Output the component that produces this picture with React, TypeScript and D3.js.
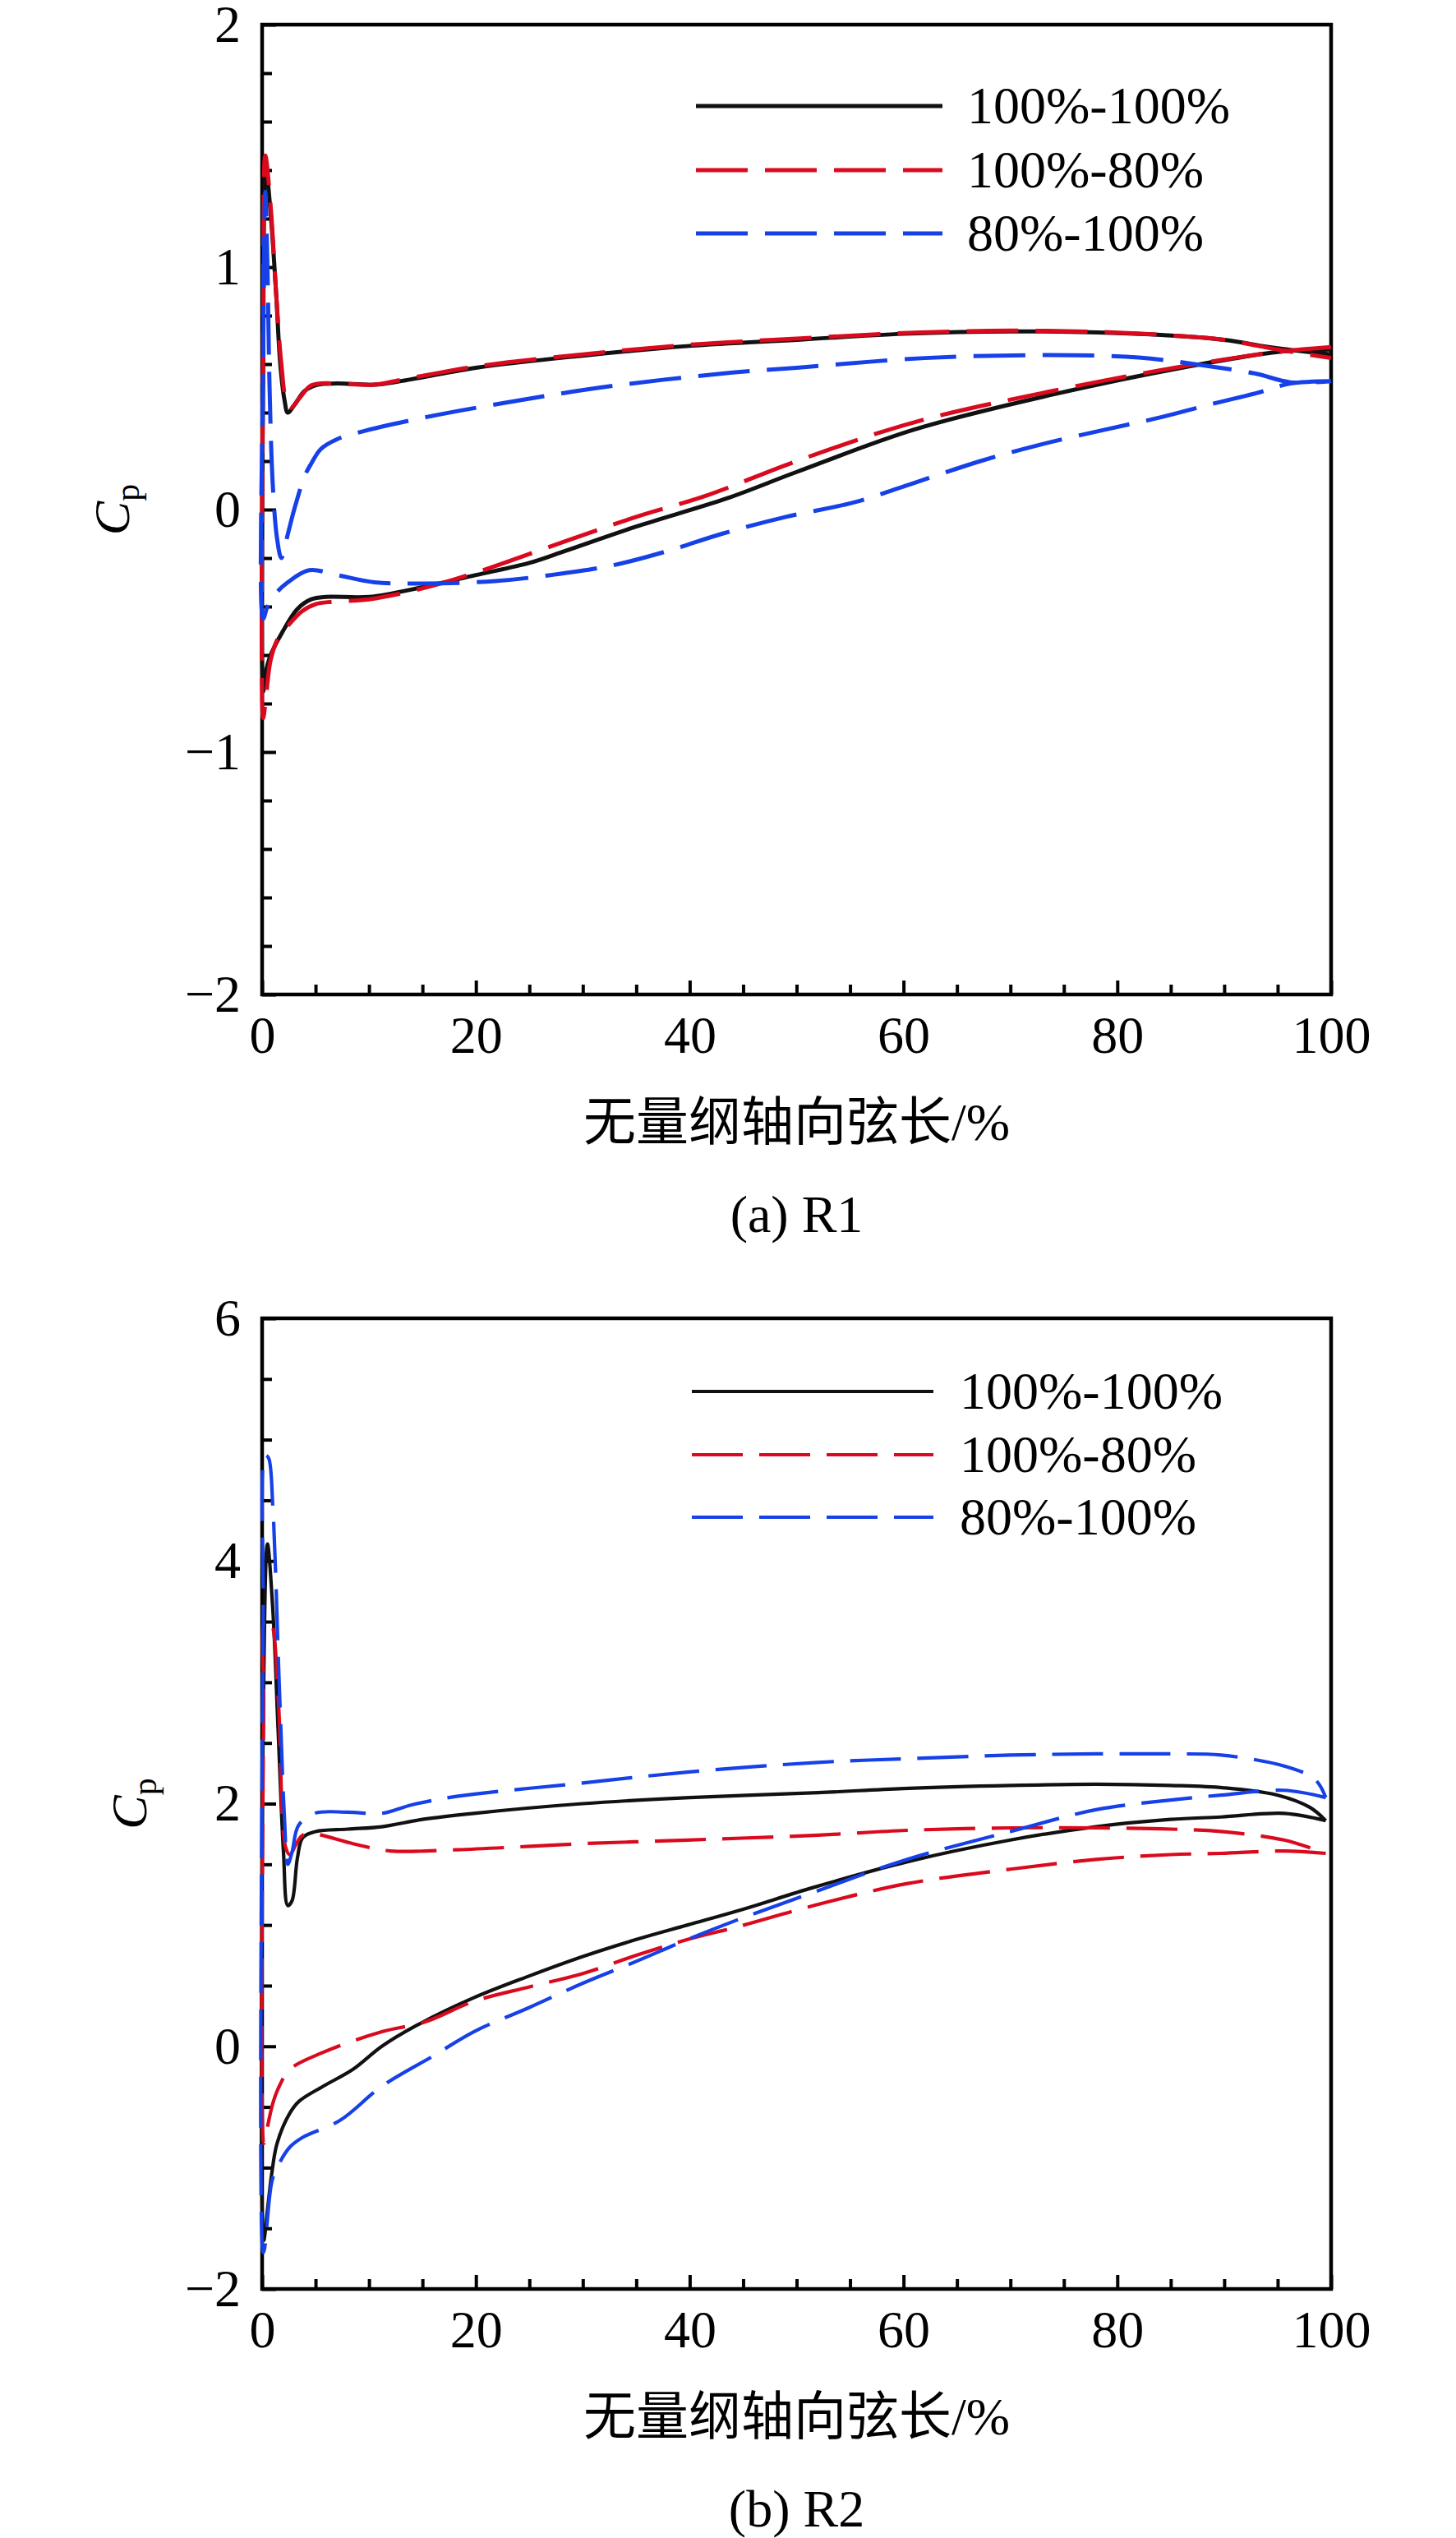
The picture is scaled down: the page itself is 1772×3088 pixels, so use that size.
import React, { useEffect, useRef } from 'react';
import * as d3 from 'd3';

type Pt = [number, number];

const seriesLabels = ['100%-100%', '100%-80%', '80%-100%'];
const seriesColors = ['#111111', '#da0a1e', '#1640e8'];

const xMajorTicks = [0, 20, 40, 60, 80, 100];
const xMinorTicks = [5, 10, 15, 25, 30, 35, 45, 50, 55, 65, 70, 75, 85, 90, 95];
const r1YTicks = [-2, -1, 0, 1, 2];
const r2YTicks = [-2, 0, 2, 4, 6];

// R1 — 100%-100%
const r1BaseUpper: Pt[] = [[0.1, 0.6], [0.35, 1.41], [0.8, 1.22], [1.3, 0.9], [1.7, 0.6], [2.1, 0.45], [2.4, 0.4], [3, 0.43], [4, 0.49], [5.2, 0.515], [7, 0.52], [10.5, 0.515], [13, 0.53], [20, 0.585], [30, 0.635], [40, 0.675], [50, 0.7], [60, 0.725], [70, 0.735], [80, 0.728], [86, 0.715], [90, 0.7], [95, 0.665], [100, 0.64]];
const r1BaseLower: Pt[] = [[0.1, -0.75], [0.3, -0.68], [0.8, -0.6], [1.9, -0.505], [3.3, -0.41], [4.6, -0.37], [6, -0.36], [10, -0.36], [15, -0.32], [20, -0.27], [25, -0.22], [28.4, -0.17], [35, -0.07], [43.4, 0.045], [50, 0.155], [61, 0.33], [74, 0.475], [86, 0.585], [95, 0.65], [100, 0.66]];
// R1 — 100%-80%
const r1RedUpper: Pt[] = [[0.1, 0.7], [0.3, 1.46], [0.8, 1.25], [1.3, 0.9], [1.8, 0.6], [2.3, 0.44], [2.7, 0.42], [3.5, 0.46], [4.5, 0.51], [5.5, 0.52], [7, 0.52], [10.5, 0.515], [13, 0.535], [20, 0.59], [30, 0.64], [40, 0.68], [50, 0.705], [60, 0.728], [70, 0.738], [80, 0.73], [86, 0.715], [90, 0.7], [95, 0.66], [100, 0.625]];
const r1RedLower: Pt[] = [[0.1, -0.86], [0.3, -0.8], [0.8, -0.62], [1.5, -0.53], [2.4, -0.48], [3.7, -0.42], [5, -0.39], [6.6, -0.38], [10, -0.37], [15, -0.325], [20, -0.26], [28.4, -0.13], [35, -0.03], [41.7, 0.06], [50, 0.2], [61, 0.36], [74, 0.49], [86, 0.59], [95, 0.65], [100, 0.67]];
// R1 — 80%-100%
const r1BlueUpper: Pt[] = [[0.1, 0.6], [0.3, 1.31], [0.5, 1.0], [0.7, 0.5], [1.0, 0.1], [1.4, -0.12], [1.8, -0.2], [2.3, -0.12], [3, 0], [4, 0.14], [4.6, 0.19], [5.5, 0.25], [7, 0.29], [9.2, 0.32], [15.2, 0.38], [24, 0.45], [32.8, 0.51], [44, 0.565], [50, 0.585], [62, 0.625], [73.5, 0.637], [82, 0.627], [88.8, 0.59], [93, 0.56], [96.2, 0.525], [100, 0.53]];
const r1BlueLower: Pt[] = [[0.1, -0.45], [0.5, -0.4], [1.2, -0.35], [2.4, -0.3], [4.4, -0.25], [7, -0.27], [10.5, -0.3], [15.2, -0.305], [21.8, -0.295], [27, -0.27], [32.8, -0.23], [38, -0.17], [43, -0.1], [49, -0.03], [55.4, 0.03], [61, 0.11], [67.2, 0.2], [73, 0.27], [78.9, 0.33], [84, 0.38], [88.8, 0.435], [93, 0.48], [96.2, 0.52], [100, 0.53]];

// R2 — 100%-100%
const r2BaseUpper: Pt[] = [[0.15, 3.0], [0.5, 4.14], [1.0, 3.6], [1.5, 2.6], [2.0, 1.6], [2.4, 1.16], [2.8, 1.2], [3.3, 1.55], [3.8, 1.72], [5, 1.77], [8, 1.79], [11.2, 1.81], [15, 1.87], [19.8, 1.92], [30, 2.0], [40, 2.05], [52, 2.09], [60, 2.125], [70, 2.15], [78, 2.16], [85, 2.15], [90, 2.13], [95, 2.07], [98, 1.97], [99.5, 1.86]];
const r2BaseLower: Pt[] = [[0.15, -1.6], [0.5, -1.35], [0.9, -1.05], [1.4, -0.8], [2.6, -0.55], [3.5, -0.45], [5.7, -0.33], [8.5, -0.19], [11.2, 0], [14.4, 0.17], [19.8, 0.4], [25, 0.58], [30, 0.74], [35, 0.88], [39.8, 1.0], [45, 1.13], [51.6, 1.31], [60.3, 1.52], [70, 1.7], [78, 1.81], [85, 1.87], [89.7, 1.89], [95.6, 1.92], [99.5, 1.86]];
// R2 — 100%-80%
const r2RedUpper: Pt[] = [[0.15, 2.8], [0.3, 3.52], [0.8, 3.5], [1.5, 2.87], [2.2, 1.64], [2.6, 1.58], [3.2, 1.67], [3.8, 1.74], [4.9, 1.75], [8.5, 1.67], [12, 1.61], [18.2, 1.62], [30, 1.67], [39.8, 1.7], [52, 1.74], [60.3, 1.78], [70, 1.8], [78, 1.8], [85, 1.79], [89.7, 1.77], [95.6, 1.7], [99.5, 1.59]];
const r2RedLower: Pt[] = [[0.15, -0.8], [0.3, -0.75], [1.0, -0.47], [1.6, -0.33], [2.6, -0.19], [5.7, -0.05], [11.2, 0.12], [15.2, 0.2], [19.8, 0.37], [25, 0.49], [30, 0.6], [35, 0.75], [39.8, 0.88], [44.7, 0.99], [51.6, 1.16], [60.3, 1.34], [70, 1.46], [78, 1.54], [85, 1.58], [89.7, 1.59], [95.6, 1.61], [99.5, 1.59]];
// R2 — 80%-100%
const r2BlueUpper: Pt[] = [[0.1, 3.5], [0.3, 4.87], [0.6, 4.85], [1.0, 4.45], [1.6, 2.99], [2.1, 1.86], [2.4, 1.5], [2.8, 1.6], [3.4, 1.82], [4.9, 1.92], [8, 1.93], [11.2, 1.92], [14, 1.99], [18.2, 2.06], [30, 2.17], [39.8, 2.26], [52, 2.34], [60.3, 2.37], [70, 2.4], [78, 2.41], [85, 2.41], [89.7, 2.4], [95.6, 2.31], [98.5, 2.2], [99.5, 2.05]];
const r2BlueLower: Pt[] = [[0.1, -1.7], [0.2, -1.68], [0.9, -1.12], [1.4, -1.0], [2.6, -0.83], [3.8, -0.75], [7.3, -0.61], [11.2, -0.33], [16, -0.08], [19.8, 0.12], [25, 0.32], [30, 0.52], [35, 0.7], [39.8, 0.88], [44.7, 1.05], [51.6, 1.27], [60.3, 1.54], [70, 1.77], [78, 1.95], [85, 2.03], [89.7, 2.07], [95.6, 2.11], [99.5, 2.05]];

const SERIF = '"Liberation Serif", "Times New Roman", "Noto Sans CJK SC", serif';
const W = 1772;
const H = 3088;

const panels = [
  {
    top: 30, bottom: 1210, yDomain: [-2, 2], yTicks: r1YTicks, yMinorStep: 0.2,
    upper: [r1BaseUpper, r1RedUpper, r1BlueUpper], lower: [r1BaseLower, r1RedLower, r1BlueLower],
    lineWidth: 5, dash: '63 21', legendRows: [99, 177, 254], legendX: [847, 1147, 1177],
    cpX: 157, caption: '(a) R1',
  },
  {
    top: 1604, bottom: 2785, yDomain: [-2, 6], yTicks: r2YTicks, yMinorStep: 0.5,
    upper: [r2BaseUpper, r2RedUpper, r2BlueUpper], lower: [r2BaseLower, r2RedLower, r2BlueLower],
    lineWidth: 4.2, dash: '62 20', legendRows: [89, 166, 242], legendX: [842, 1136, 1168],
    cpX: 178, caption: '(b) R2',
  },
];

export default function App() {
  const svgRef = useRef<SVGSVGElement>(null);

  useEffect(() => {
    document.body.style.margin = '0';
    if (!svgRef.current) return;
    const svg = d3.select(svgRef.current);
    svg.selectAll('*').remove();

    const left = 319;
    const right = 1620;
    const x = d3.scaleLinear().domain([0, 100]).range([left, right]);
    const fmt = d3.format('d');

    panels.forEach((p) => {
      const y = d3.scaleLinear().domain(p.yDomain).range([p.bottom, p.top]);
      const g = svg.append('g');

      // minor ticks
      const yMinor = d3.range(p.yDomain[0], p.yDomain[1] + 1e-9, p.yMinorStep)
        .filter(v => !p.yTicks.some(t => Math.abs(t - v) < 1e-6));
      g.append('g')
        .attr('transform', `translate(${left},0)`)
        .call(d3.axisLeft(y).tickValues(yMinor).tickSize(-12).tickFormat(() => ''))
        .call(a => a.select('.domain').remove())
        .selectAll('line').attr('stroke', '#000').attr('stroke-width', 4);
      g.append('g')
        .attr('transform', `translate(0,${p.bottom})`)
        .call(d3.axisBottom(x).tickValues(xMinorTicks).tickSize(-12).tickFormat(() => ''))
        .call(a => a.select('.domain').remove())
        .selectAll('line').attr('stroke', '#000').attr('stroke-width', 4);

      // major ticks + labels
      const yAxis = g.append('g')
        .attr('transform', `translate(${left},0)`)
        .call(d3.axisLeft(y).tickValues(p.yTicks).tickSize(-17).tickPadding(26).tickFormat(d => fmt(d as number)))
        .call(a => a.select('.domain').remove());
      yAxis.selectAll('line').attr('stroke', '#000').attr('stroke-width', 4);
      yAxis.selectAll('text')
        .attr('fill', '#000')
        .style('font-family', SERIF)
        .style('font-size', '64px');

      const xAxis = g.append('g')
        .attr('transform', `translate(0,${p.bottom})`)
        .call(d3.axisBottom(x).tickValues(xMajorTicks).tickSize(-17).tickPadding(26).tickFormat(d => fmt(d as number)))
        .call(a => a.select('.domain').remove());
      xAxis.selectAll('line').attr('stroke', '#000').attr('stroke-width', 4);
      xAxis.selectAll('text')
        .attr('fill', '#000')
        .style('font-family', SERIF)
        .style('font-size', '64px');

      // frame
      g.append('rect')
        .attr('x', left).attr('y', p.top)
        .attr('width', right - left).attr('height', p.bottom - p.top)
        .attr('fill', 'none').attr('stroke', '#000').attr('stroke-width', 4.5);

      // curves: lower surface from trailing edge back to leading edge, then upper surface
      const line = d3.line<Pt>()
        .x(d => x(d[0]))
        .y(d => y(d[1]))
        .curve(d3.curveCatmullRom.alpha(0.5));

      [0, 1, 2].forEach(i => {
        const loop = [...p.lower[i]].reverse().concat(p.upper[i]);
        g.append('path')
          .datum(loop)
          .attr('fill', 'none')
          .attr('stroke', seriesColors[i])
          .attr('stroke-width', p.lineWidth)
          .attr('stroke-dasharray', i === 0 ? null : p.dash)
          .attr('stroke-linejoin', 'round')
          .attr('d', line);
      });

      // legend
      const [lx0, lx1, tx] = p.legendX;
      seriesLabels.forEach((label, i) => {
        const ly = p.top + p.legendRows[i];
        g.append('line')
          .attr('x1', lx0).attr('x2', lx1)
          .attr('y1', ly).attr('y2', ly)
          .attr('stroke', seriesColors[i])
          .attr('stroke-width', p.lineWidth)
          .attr('stroke-dasharray', i === 0 ? null : p.dash);
        g.append('text')
          .attr('x', tx).attr('y', ly + 21)
          .style('font-family', SERIF)
          .style('font-size', '64px')
          .attr('fill', '#000')
          .text(label);
      });

      // y label Cp
      const midY = (p.top + p.bottom) / 2;
      const cp = g.append('text')
        .attr('transform', `translate(${p.cpX},${midY}) rotate(-90)`)
        .attr('text-anchor', 'middle')
        .style('font-family', SERIF)
        .attr('fill', '#000');
      cp.append('tspan').style('font-style', 'italic').style('font-size', '62px').text('C');
      cp.append('tspan').attr('dy', 12).style('font-size', '42px').text('p');

      // x title and caption
      g.append('text')
        .attr('x', (left + right) / 2).attr('y', p.bottom + 177)
        .attr('text-anchor', 'middle')
        .style('font-family', SERIF)
        .style('font-size', '64px')
        .attr('fill', '#000')
        .text('无量纲轴向弦长/%');
      g.append('text')
        .attr('x', (left + right) / 2).attr('y', p.bottom + 289)
        .attr('text-anchor', 'middle')
        .style('font-family', SERIF)
        .style('font-size', '64px')
        .attr('fill', '#000')
        .text(p.caption);
    });
  }, []);

  return (
    <svg ref={svgRef} width={W} height={H} style={{ display: 'block', background: '#fff' }} />
  );
}
